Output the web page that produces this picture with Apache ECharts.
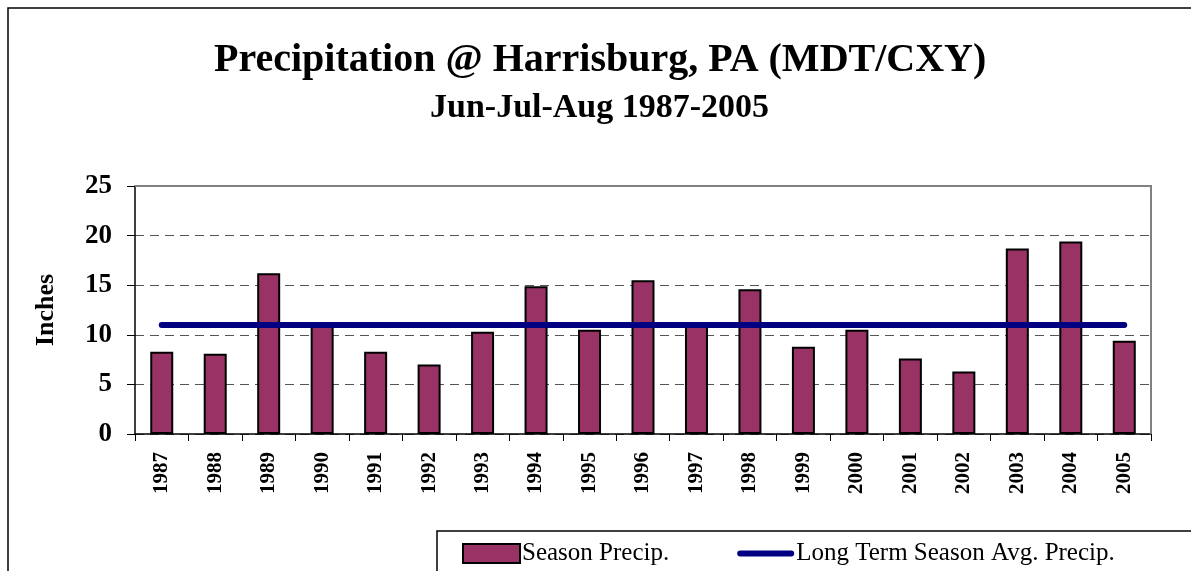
<!DOCTYPE html>
<html>
<head>
<meta charset="utf-8">
<script src="https://cdn.jsdelivr.net/npm/echarts@6/dist/echarts.min.js"></script>
<style>
  html, body { margin: 0; padding: 0; background: #fff; }
  #chart { width: 1191px; height: 571px; }
</style>
</head>
<body>
<div id="chart"></div>
<script>
const years = ['1987', '1988', '1989', '1990', '1991', '1992', '1993', '1994', '1995', '1996',
  '1997', '1998', '1999', '2000', '2001', '2002', '2003', '2004', '2005']
const seasonPrecip = [8.3, 8.1, 16.2, 10.9, 8.3, 7.0, 10.3, 14.9, 10.5, 15.5,
  10.9, 14.6, 8.8, 10.5, 7.6, 6.3, 18.7, 19.4, 9.4]
const longTermAvg = 11.0
const avgLine = years.map(() => longTermAvg)

const serif = '"Liberation Serif", "Times New Roman", serif'
const chart = echarts.init(document.getElementById('chart'))

const frame = [
  {
    type: 'rect',
    shape: { x: 8, y: 8, width: 1200, height: 600 },
    style: { fill: 'none', stroke: '#000', lineWidth: 1.5 },
    z: -1,
  },
  {
    type: 'rect',
    shape: { x: 437, y: 531, width: 800, height: 100 },
    style: { fill: '#fff', stroke: '#000', lineWidth: 1.5 },
    z: 0,
  },
]

chart.setOption({
  animation: false,
  backgroundColor: '#fff',
  textStyle: { fontFamily: serif, color: '#000' },
  title: [
    {
      text: 'Precipitation @ Harrisburg, PA (MDT/CXY)',
      left: 214,
      top: 41,
      padding: 0,
      textStyle: { fontFamily: serif, fontSize: 40, fontWeight: 'bold', color: '#000' },
    },
    {
      text: 'Jun-Jul-Aug 1987-2005',
      left: 430,
      top: 91,
      padding: 0,
      textStyle: { fontFamily: serif, fontSize: 34, fontWeight: 'bold', color: '#000' },
    },
  ],
  graphic: frame,
  legend: {
    left: 462,
    top: 541,
    padding: 0,
    itemGap: 68,
    itemWidth: 57,
    itemHeight: 19,
    textStyle: { fontFamily: serif, fontSize: 25, color: '#000', padding: [0, 0, 0, -3] },
    data: [
      { name: 'Season Precip.', icon: 'rect', itemStyle: { borderColor: '#000', borderWidth: 2 } },
      { name: 'Long Term Season Avg. Precip.', icon: 'path://M3,0 L54,0 A3,3 0 0 1 54,6 L3,6 A3,3 0 0 1 3,0 Z' },
    ],
    z: 5,
  },
  grid: { left: 135, right: 40, top: 186, bottom: 137 },
  xAxis: {
    type: 'category',
    data: years,
    boundaryGap: true,
    axisLine: { lineStyle: { color: '#000', width: 1.5 } },
    axisTick: { show: true, length: 7, lineStyle: { color: '#000' } },
    axisLabel: {
      rotate: 90,
      fontFamily: serif,
      fontSize: 21,
      fontWeight: 'bold',
      color: '#000',
      margin: 18,
    },
  },
  yAxis: {
    type: 'value',
    min: 0,
    max: 25,
    interval: 5,
    name: 'Inches',
    nameLocation: 'middle',
    nameGap: 76,
    nameRotate: 90,
    nameTextStyle: { fontFamily: serif, fontSize: 26, fontWeight: 'bold', color: '#000' },
    axisLine: { show: true, lineStyle: { color: '#000', width: 1.5 } },
    axisTick: { show: true, length: 8, lineStyle: { color: '#000' } },
    axisLabel: { fontFamily: serif, fontSize: 27, fontWeight: 'bold', color: '#000', margin: 23 },
    splitLine: { show: true, lineStyle: { color: '#555', type: [9, 6], width: 1 } },
  },
  series: [
    {
      name: 'Season Precip.',
      type: 'bar',
      data: seasonPrecip,
      barWidth: 23,
      itemStyle: { color: '#993366', borderColor: '#000', borderWidth: 2 },
      z: 2,
    },
    {
      name: 'Long Term Season Avg. Precip.',
      type: 'line',
      data: avgLine,
      symbol: 'none',
      lineStyle: { color: '#000080', width: 6, cap: 'round' },
      itemStyle: { color: '#000080' },
      z: 3,
    },
  ],
})

// grey top/right edge of the plot area, taken from the grid's own rect
const gridRect = chart.getModel().getComponent('grid').coordinateSystem.getRect()
chart.setOption({
  graphic: frame.concat([
    {
      type: 'polyline',
      shape: {
        points: [
          [gridRect.x, gridRect.y],
          [gridRect.x + gridRect.width, gridRect.y],
          [gridRect.x + gridRect.width, gridRect.y + gridRect.height],
        ],
      },
      style: { fill: 'none', stroke: '#808080', lineWidth: 2 },
      z: 1,
    },
  ]),
})
</script>
</body>
</html>
